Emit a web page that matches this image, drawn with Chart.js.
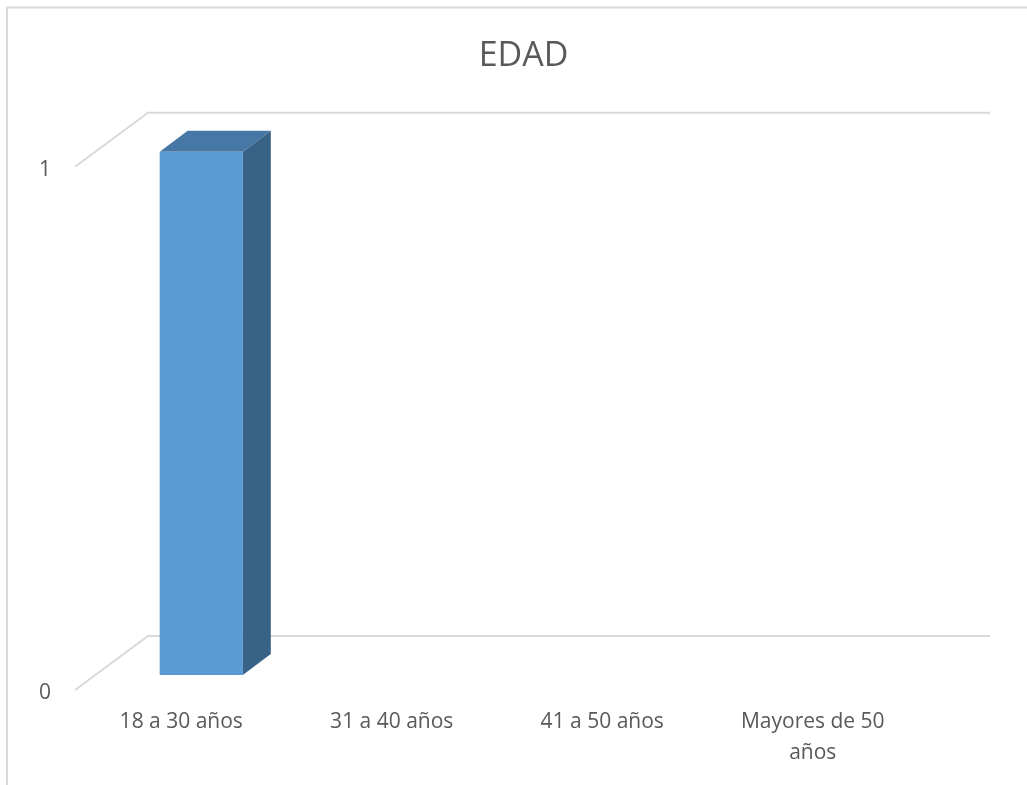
<!DOCTYPE html>
<html>
<head>
<meta charset="utf-8">
<script src="https://cdn.jsdelivr.net/npm/chart.js@4/dist/chart.umd.min.js"></script>
<style>
  html, body { margin: 0; padding: 0; background: #ffffff; }
  #wrap { position: relative; width: 1027px; height: 785px; }
</style>
</head>
<body>
<div id="wrap"><canvas id="chart_edad"></canvas></div>
<script>
// data
const categories = ['18 a 30 años', '31 a 40 años', '41 a 50 años', ['Mayores de 50', 'años']];
const values = [1, 0, 0, 0];
const yTicks = [0, 1];

const textColor = '#595959';
const gridColor = '#d9d9d9';

// depth of the floor and of the bar (Excel 3D look)
const frontShift = { x: -21, y: 15 };  // bar plane -> front edge of floor
const wallShift = { x: 52, y: -39 };   // bar plane -> back wall
const barDepth = { x: 28, y: -21 };

const threeDPlugin = {
    id: 'threeD',
    beforeDraw(chart) {
        const ctx = chart.ctx;
        ctx.save();
        ctx.strokeStyle = gridColor;
        ctx.lineWidth = 2;
        ctx.beginPath();
        ctx.moveTo(7, chart.height);
        ctx.lineTo(7, 7.5);
        ctx.lineTo(chart.width, 7.5);
        ctx.stroke();
        ctx.restore();
    },
    beforeDatasetsDraw(chart) {
        const ctx = chart.ctx;
        const area = chart.chartArea;
        const y = chart.scales.y;
        ctx.save();
        ctx.strokeStyle = gridColor;
        ctx.lineWidth = 2;
        yTicks.forEach(v => {
            const py = y.getPixelForValue(v);
            ctx.beginPath();
            ctx.moveTo(area.left + frontShift.x, py + frontShift.y);
            ctx.lineTo(area.left + wallShift.x, py + wallShift.y);
            ctx.lineTo(area.right + wallShift.x, py + wallShift.y);
            ctx.stroke();
        });
        ctx.restore();
    },
    afterDatasetsDraw(chart) {
        const ctx = chart.ctx;
        const meta = chart.getDatasetMeta(0);
        ctx.save();
        meta.data.forEach((bar, i) => {
            if (!values[i]) return;
            const p = bar.getProps(['x', 'y', 'base', 'width'], true);
            const l = p.x - p.width / 2;
            const r = p.x + p.width / 2;
            // top face
            ctx.fillStyle = '#4677a5';
            ctx.beginPath();
            ctx.moveTo(l, p.y);
            ctx.lineTo(r, p.y);
            ctx.lineTo(r + barDepth.x, p.y + barDepth.y);
            ctx.lineTo(l + barDepth.x, p.y + barDepth.y);
            ctx.closePath();
            ctx.fill();
            // side face
            ctx.fillStyle = '#386387';
            ctx.beginPath();
            ctx.moveTo(r, p.y);
            ctx.lineTo(r + barDepth.x, p.y + barDepth.y);
            ctx.lineTo(r + barDepth.x, p.base + barDepth.y);
            ctx.lineTo(r, p.base);
            ctx.closePath();
            ctx.fill();
        });
        ctx.restore();
    }
};

const ctx = document.getElementById('chart_edad').getContext('2d');

new Chart(ctx, {
    type: 'bar',
    data: {
        labels: categories,
        datasets: [{
            label: 'EDAD',
            data: values,
            backgroundColor: '#5b9bd5',
            borderWidth: 0,
            categoryPercentage: 1,
            barPercentage: 0.395
        }]
    },
    plugins: [threeDPlugin],
    options: {
        responsive: true,
        maintainAspectRatio: false,
        animation: false,
        layout: {
            padding: { left: 20, right: 0, top: 0, bottom: 0 }
        },
        plugins: {
            legend: { display: false },
            tooltip: { enabled: false },
            title: {
                display: true,
                text: 'EDAD',
                color: textColor,
                font: { family: 'Open Sans', size: 34, weight: 'normal', lineHeight: 1.2 },
                padding: { top: 36, bottom: 75 }
            }
        },
        scales: {
            x: {
                grid: { display: false, drawTicks: false },
                border: { display: false },
                ticks: {
                    color: textColor,
                    font: { family: 'Open Sans', size: 21, lineHeight: 1.45 },
                    padding: 32,
                    labelOffset: -20,
                    maxRotation: 0,
                    autoSkip: false
                },
                afterFit(scale) { scale.height = 110; }
            },
            y: {
                min: 0,
                max: 1,
                grid: { display: false, drawTicks: false },
                border: { display: false },
                ticks: {
                    stepSize: 1,
                    color: textColor,
                    font: { family: 'Open Sans', size: 21 },
                    padding: 45,
                    labelOffset: 18
                },
                afterFit(scale) { scale.width = 76; }
            },
            pad: {
                position: 'right',
                display: true,
                grid: { display: false, drawTicks: false },
                border: { display: false },
                ticks: { display: false },
                afterFit(scale) { scale.width = 89; }
            }
        }
    }
});
</script>
</body>
</html>
